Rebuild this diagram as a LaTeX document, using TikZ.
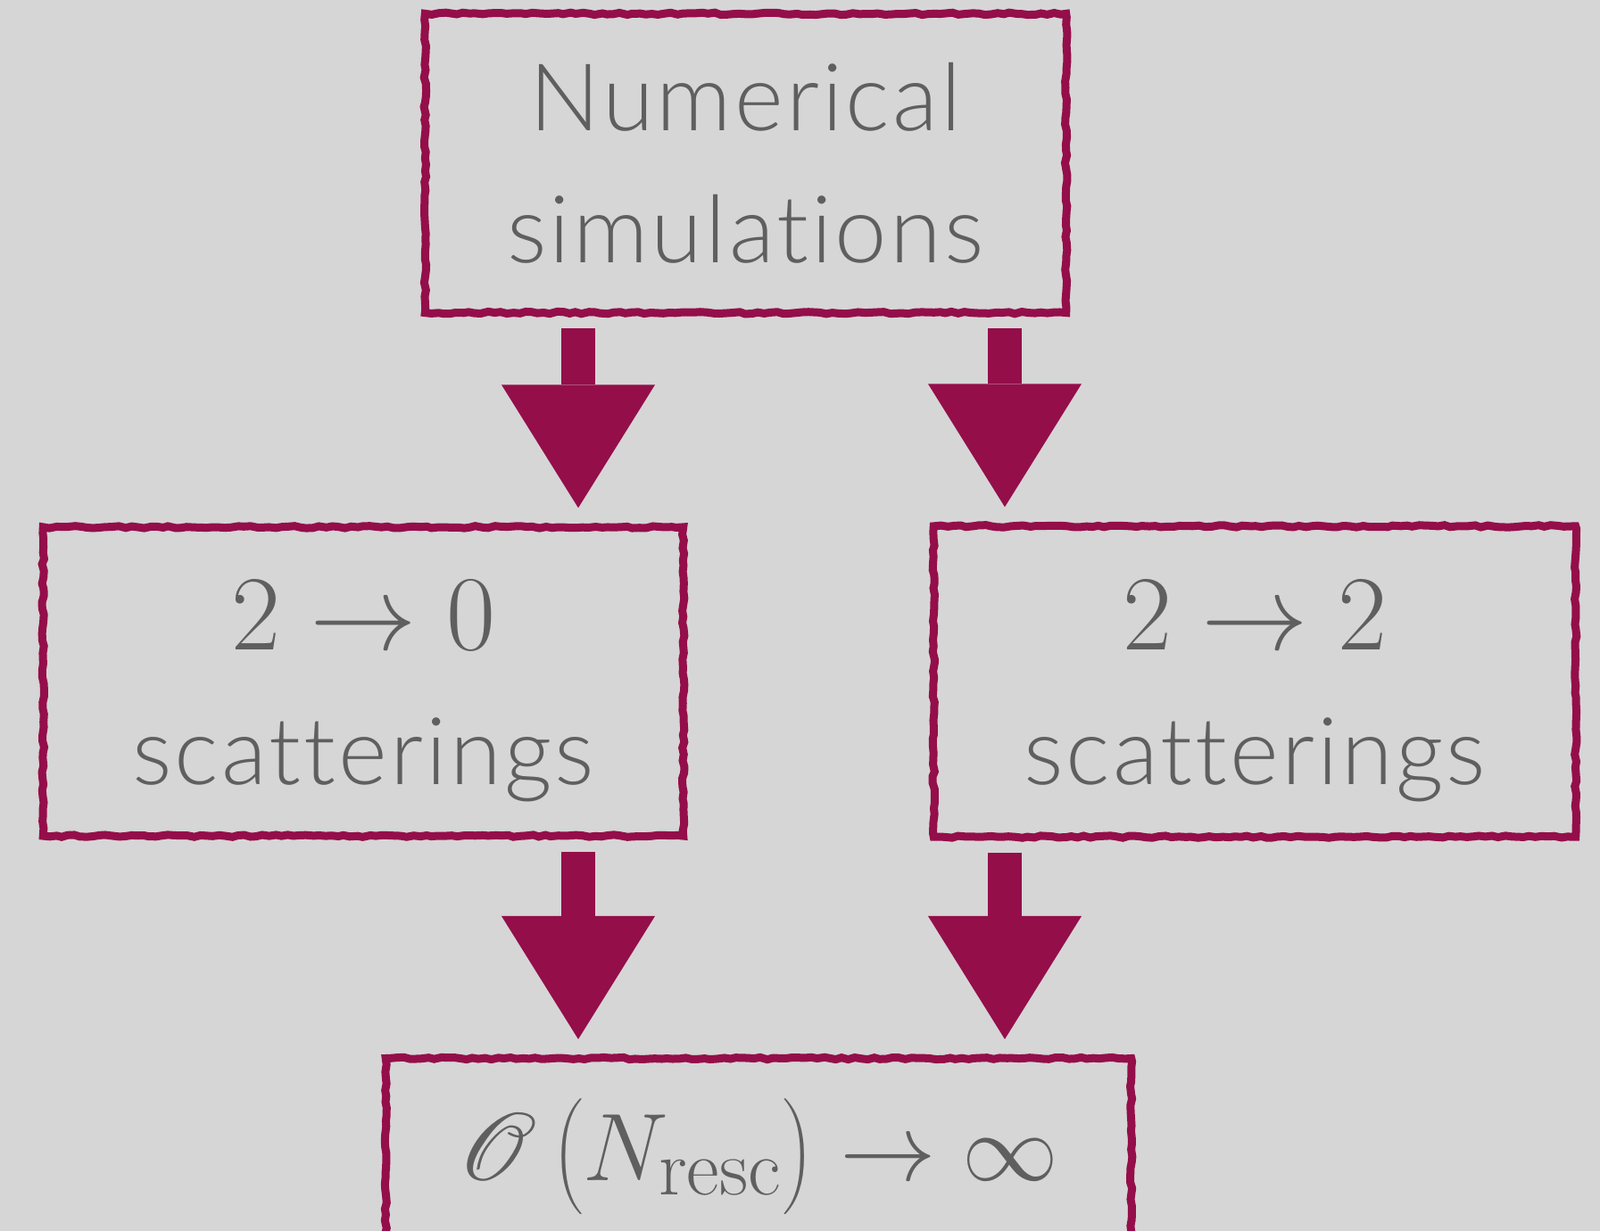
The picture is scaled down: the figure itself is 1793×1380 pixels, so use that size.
\documentclass[tikz,border=0pt]{standalone}
\usepackage[no-math]{fontspec}
\setmainfont{Lato}[UprightFont={* Light}, Ligatures=NoCommon, LetterSpace=3]
\usepackage{mathrsfs}
\usetikzlibrary{arrows.meta,decorations.pathmorphing}

\definecolor{bgGray}{RGB}{214,214,214}
\definecolor{boxRed}{RGB}{148,14,74}
\definecolor{txtGray}{RGB}{95,95,95}
\newcommand\boxmath[2][1.367]{\scalebox{#1}{\fontsize{24.88}{30}\selectfont$#2$}}

\begin{document}
\begin{tikzpicture}[x=0.01cm,y=-0.01cm,
    box/.style={draw=boxRed, line width=0.09cm, text=txtGray, align=center,
      font=\fontsize{29.8}{42}\selectfont, inner sep=0pt,
      decorate, decoration={random steps, segment length=2pt, amplitude=0.35pt}},
    blockarrow/.style={draw=boxRed, line width=0.37cm,
      -{Triangle[length=1.38cm, width=1.72cm, line width=0pt]},
      shorten <=0.13cm, shorten >=0.17cm}]
   		% Background
   		\fill[bgGray] (0,0) rectangle (1793,1380);
   		\useasboundingbox (0,0) rectangle (1793,1380);
   		\clip (0,0) rectangle (1793,1380);

   		% Boxes
   		\node[box, minimum width=7.18cm, minimum height=3.35cm] (sim) at (835.5,183) {Numerical\\simulations};
   		\node[box, minimum width=7.17cm, minimum height=3.46cm] (scatZero) at (407,764) {\rule{0pt}{1cm}\boxmath{2\to0}\\[0.03cm]scatterings};
   		\node[box, minimum width=7.19cm, minimum height=3.48cm] (scatTwo) at (1406,764) {\rule{0pt}{1cm}\boxmath{2\to2}\\[0.03cm]scatterings};
   		\node[box, anchor=north, minimum width=8.35cm, inner ysep=0.2cm, text height=1.165cm, text depth=1.5cm] (resc) at (850,1182) {\boxmath[1.23]{\mathscr{O}\left(\rule[-8.8pt]{0pt}{30pt}N_{\mathrm{resc}}\right)\to\infty}};

   		% Arrows
   		\coordinate (colL) at (648,0);
   		\coordinate (colR) at (1126,0);
   		\draw[blockarrow] (sim.south -| colL) -- (scatZero.north -| colL);
   		\draw[blockarrow] (sim.south -| colR) -- (scatTwo.north -| colR);
   		\draw[blockarrow] (scatZero.south -| colL) -- (resc.north -| colL);
   		\draw[blockarrow] (scatTwo.south -| colR) -- (resc.north -| colR);
   	\end{tikzpicture}
\end{document}
